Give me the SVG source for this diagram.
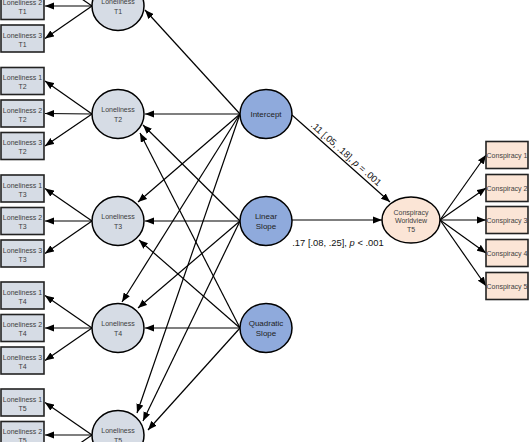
<svg xmlns="http://www.w3.org/2000/svg" width="530" height="442" viewBox="0 0 530 442">
<defs>
<marker id="ah" viewBox="0 0 10 8" refX="10" refY="4" markerWidth="9" markerHeight="7.5" markerUnits="userSpaceOnUse" orient="auto">
<path d="M0,0 L10,4 L0,8 z" fill="#000"/>
</marker>
<style>
.ln{stroke:#000;stroke-width:1.2;fill:none;marker-end:url(#ah)}
.box{fill:#d6dce5;stroke:#222;stroke-width:1.6}
.cbox{fill:#fbe5d6;stroke:#222;stroke-width:1.6}
.lat{fill:#d6dce5;stroke:#000;stroke-width:1.5}
.gf{fill:#8faadc;stroke:#000;stroke-width:1.5}
.cw{fill:#fbe5d6;stroke:#000;stroke-width:1.5}
text{font-family:"Liberation Sans",Arial,sans-serif;fill:#404040;text-anchor:middle}
.t7{font-size:7px}
.t8{font-size:8px;fill:#222}
.lab{font-size:9.4px;fill:#111}
</style>
</defs>

<g id="connectors">
<!-- loneliness to indicators -->
<line class="ln" x1="92" y1="6" x2="45" y2="-26.5"/>
<line class="ln" x1="92" y1="6" x2="45" y2="6"/>
<line class="ln" x1="92" y1="6" x2="45" y2="38.5"/>
<line class="ln" x1="92" y1="114" x2="45" y2="81"/>
<line class="ln" x1="92" y1="114" x2="45" y2="113.5"/>
<line class="ln" x1="92" y1="114" x2="45" y2="146"/>
<line class="ln" x1="92" y1="221" x2="45" y2="188.5"/>
<line class="ln" x1="92" y1="221" x2="45" y2="221"/>
<line class="ln" x1="92" y1="221" x2="45" y2="253.5"/>
<line class="ln" x1="92" y1="328" x2="45" y2="295.5"/>
<line class="ln" x1="92" y1="328" x2="45" y2="328"/>
<line class="ln" x1="92" y1="328" x2="45" y2="360.5"/>
<line class="ln" x1="92" y1="435" x2="45" y2="402.5"/>
<line class="ln" x1="92" y1="435" x2="45" y2="435"/>
<line class="ln" x1="92" y1="435" x2="45" y2="467.5"/>
<!-- intercept -->
<line class="ln" x1="240" y1="114" x2="145" y2="10"/>
<line class="ln" x1="240" y1="114" x2="145" y2="114"/>
<line class="ln" x1="240" y1="114" x2="138" y2="202"/>
<line class="ln" x1="240" y1="114" x2="122" y2="302"/>
<line class="ln" x1="240" y1="114" x2="137" y2="413"/>
<!-- linear -->
<line class="ln" x1="240" y1="221" x2="143" y2="125"/>
<line class="ln" x1="240" y1="221" x2="145" y2="221"/>
<line class="ln" x1="240" y1="221" x2="138" y2="308"/>
<line class="ln" x1="240" y1="221" x2="143" y2="421"/>
<!-- quadratic -->
<line class="ln" x1="240" y1="328" x2="140" y2="133"/>
<line class="ln" x1="240" y1="328" x2="139" y2="240"/>
<line class="ln" x1="240" y1="328" x2="145" y2="328"/>
<line class="ln" x1="240" y1="328" x2="148" y2="430"/>
<!-- to conspiracy -->
<line class="ln" x1="292" y1="115" x2="390" y2="202"/>
<line class="ln" x1="292" y1="220" x2="382" y2="220"/>
<!-- conspiracy indicators -->
<line class="ln" x1="440" y1="220" x2="486" y2="155"/>
<line class="ln" x1="440" y1="220" x2="486" y2="188"/>
<line class="ln" x1="440" y1="220" x2="486" y2="220"/>
<line class="ln" x1="440" y1="220" x2="486" y2="253"/>
<line class="ln" x1="440" y1="220" x2="486" y2="286"/>
<text class="lab" transform="translate(346,154) rotate(41.9)" y="3">.11 [.05, .18], <tspan font-style="italic">p</tspan> = .001</text>
<text class="lab" x="338" y="246">.17 [.08, .25], <tspan font-style="italic">p</tspan> &lt; .001</text>
</g>

<!-- indicator boxes -->
<g id="L2T1"><rect class="box" x="1" y="-7.5" width="43" height="27"/><text class="t7" x="22.5" y="5">Loneliness 2</text><text class="t7" x="22.5" y="14">T1</text></g>
<g id="L3T1"><rect class="box" x="1" y="25" width="43" height="27"/><text class="t7" x="22.5" y="37.5">Loneliness 3</text><text class="t7" x="22.5" y="46.5">T1</text></g>

<g id="L1T2"><rect class="box" x="1" y="67.5" width="43" height="27"/><text class="t7" x="22.5" y="80">Loneliness 1</text><text class="t7" x="22.5" y="89">T2</text></g>
<g id="L2T2"><rect class="box" x="1" y="100" width="43" height="27"/><text class="t7" x="22.5" y="112.5">Loneliness 2</text><text class="t7" x="22.5" y="121.5">T2</text></g>
<g id="L3T2"><rect class="box" x="1" y="132.5" width="43" height="27"/><text class="t7" x="22.5" y="145">Loneliness 3</text><text class="t7" x="22.5" y="154">T2</text></g>

<g id="L1T3"><rect class="box" x="1" y="175" width="43" height="27"/><text class="t7" x="22.5" y="187.5">Loneliness 1</text><text class="t7" x="22.5" y="196.5">T3</text></g>
<g id="L2T3"><rect class="box" x="1" y="207.5" width="43" height="27"/><text class="t7" x="22.5" y="220">Loneliness 2</text><text class="t7" x="22.5" y="229">T3</text></g>
<g id="L3T3"><rect class="box" x="1" y="240" width="43" height="27"/><text class="t7" x="22.5" y="252.5">Loneliness 3</text><text class="t7" x="22.5" y="261.5">T3</text></g>

<g id="L1T4"><rect class="box" x="1" y="282" width="43" height="27"/><text class="t7" x="22.5" y="294.5">Loneliness 1</text><text class="t7" x="22.5" y="303.5">T4</text></g>
<g id="L2T4"><rect class="box" x="1" y="314.5" width="43" height="27"/><text class="t7" x="22.5" y="327">Loneliness 2</text><text class="t7" x="22.5" y="336">T4</text></g>
<g id="L3T4"><rect class="box" x="1" y="347" width="43" height="27"/><text class="t7" x="22.5" y="359.5">Loneliness 3</text><text class="t7" x="22.5" y="368.5">T4</text></g>

<g id="L1T5"><rect class="box" x="1" y="389" width="43" height="27"/><text class="t7" x="22.5" y="401.5">Loneliness 1</text><text class="t7" x="22.5" y="410.5">T5</text></g>
<g id="L2T5"><rect class="box" x="1" y="421.5" width="43" height="27"/><text class="t7" x="22.5" y="434">Loneliness 2</text><text class="t7" x="22.5" y="443">T5</text></g>

<!-- loneliness latents -->
<g id="LT1"><ellipse class="lat" cx="118" cy="6" rx="26" ry="24.5"/><text class="t7" x="118" y="4">Loneliness</text><text class="t7" x="118" y="13.5">T1</text></g>
<g id="LT2"><ellipse class="lat" cx="118" cy="114" rx="26" ry="24.5"/><text class="t7" x="118" y="112">Loneliness</text><text class="t7" x="118" y="121.5">T2</text></g>
<g id="LT3"><ellipse class="lat" cx="118" cy="221" rx="26" ry="24.5"/><text class="t7" x="118" y="219">Loneliness</text><text class="t7" x="118" y="228.5">T3</text></g>
<g id="LT4"><ellipse class="lat" cx="118" cy="328" rx="26" ry="24.5"/><text class="t7" x="118" y="326">Loneliness</text><text class="t7" x="118" y="335.5">T4</text></g>
<g id="LT5"><ellipse class="lat" cx="118" cy="435" rx="26" ry="24.5"/><text class="t7" x="118" y="433">Loneliness</text><text class="t7" x="118" y="442.5">T5</text></g>

<!-- growth factors -->
<g id="intercept"><ellipse class="gf" cx="266" cy="114" rx="26" ry="24.5"/><text class="t8" x="266" y="117">Intercept</text></g>
<g id="linear"><ellipse class="gf" cx="266" cy="221" rx="26" ry="24.5"/><text class="t8" x="266" y="218.5">Linear</text><text class="t8" x="266" y="229">Slope</text></g>
<g id="quadratic"><ellipse class="gf" cx="266" cy="328" rx="26" ry="24.5"/><text class="t8" x="266" y="325.5">Quadratic</text><text class="t8" x="266" y="336">Slope</text></g>

<!-- conspiracy worldview -->
<g id="CWT5"><ellipse class="cw" cx="411" cy="220" rx="29" ry="23"/><text class="t7" x="411" y="214.5">Conspiracy</text><text class="t7" x="411" y="223">Worldview</text><text class="t7" x="411" y="231.5">T5</text></g>

<g id="C1"><rect class="cbox" x="486" y="141.5" width="42" height="27"/><text class="t7" x="507" y="157.5">Conspiracy 1</text></g>
<g id="C2"><rect class="cbox" x="486" y="174.5" width="42" height="27"/><text class="t7" x="507" y="190.5">Conspiracy 2</text></g>
<g id="C3"><rect class="cbox" x="486" y="206.5" width="42" height="27"/><text class="t7" x="507" y="222.5">Conspiracy 3</text></g>
<g id="C4"><rect class="cbox" x="486" y="239.5" width="42" height="27"/><text class="t7" x="507" y="255.5">Conspiracy 4</text></g>
<g id="C5"><rect class="cbox" x="486" y="272.5" width="42" height="27"/><text class="t7" x="507" y="288.5">Conspiracy 5</text></g>
</svg>
